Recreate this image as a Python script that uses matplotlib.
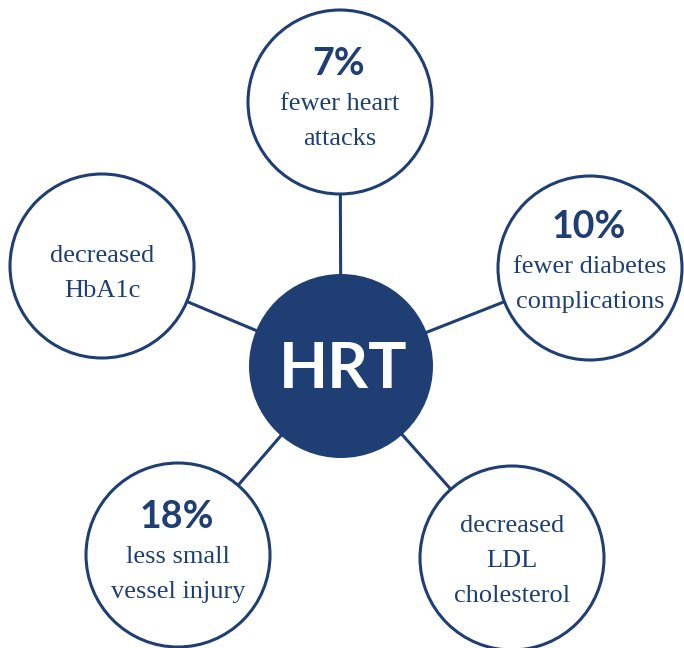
import matplotlib.pyplot as plt
from matplotlib.patches import Circle

# Diagram content
hub_label = "HRT"
percents = ["7%", "10%", "", "18%", ""]
descriptions = [
    ["fewer heart", "attacks"],
    ["fewer diabetes", "complications"],
    ["decreased", "HbA1c"],
    ["less small", "vessel injury"],
    ["decreased", "LDL", "cholesterol"],
]

# Layout (pixel coordinates, y going down)
hub_xy = (341, 366)
hub_r = 92
node_xy = [(340, 102), (590, 268), (102, 266), (178, 555), (512, 558)]
node_r = 92
# baseline of the first text line in each node
first_baseline = [75, 238, 262, 528, 532]
line_gap = 35

navy = "#1f3f74"

fig = plt.figure(figsize=(6.84, 6.48), dpi=100)
ax = fig.add_axes([0, 0, 1, 1])
ax.set_xlim(0, 684)
ax.set_ylim(648, 0)
ax.set_aspect("equal")
ax.axis("off")

# Connector lines between hub and outer circles
for (x, y) in node_xy:
    ax.plot([hub_xy[0], x], [hub_xy[1], y], color=navy, lw=2.2, zorder=1,
            solid_capstyle="butt")

# Outer circles
for (x, y) in node_xy:
    ax.add_patch(Circle((x, y), node_r, facecolor="white", edgecolor=navy,
                        lw=2.2, zorder=2))

# Hub
ax.add_patch(Circle(hub_xy, hub_r, facecolor=navy, edgecolor="none", zorder=3))
ax.text(hub_xy[0] + 2, 388, hub_label, color="white", fontsize=46,
        fontfamily="Lato", fontweight="bold", ha="center", va="baseline",
        zorder=4)

# Node texts
for i, (x, y) in enumerate(node_xy):
    b = first_baseline[i]
    if percents[i]:
        ax.text(x - 1, b, percents[i], color=navy, fontsize=27,
                fontfamily="Lato", fontweight="bold", ha="center",
                va="baseline", zorder=4)
        b += line_gap
    for line in descriptions[i]:
        ax.text(x, b, line, color=navy, fontsize=19,
                fontfamily="Liberation Serif", ha="center", va="baseline",
                zorder=4)
        b += line_gap

plt.savefig("out.png", dpi=100)
